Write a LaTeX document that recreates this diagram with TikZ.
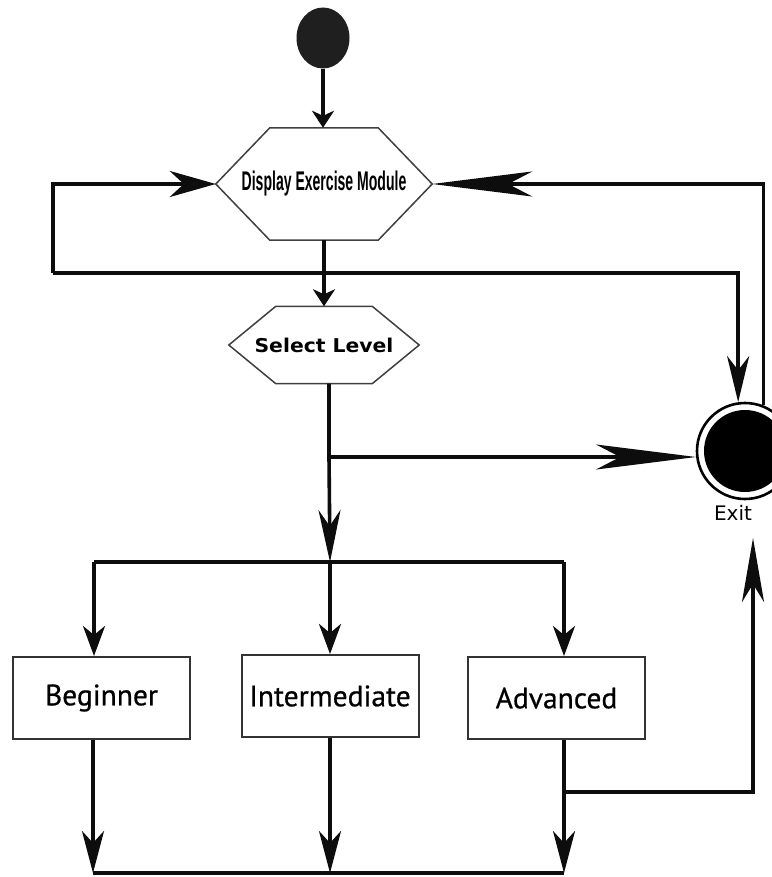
\documentclass[tikz,border=0pt]{standalone}
\usepackage{fontspec}
\setmainfont{Liberation Sans}
\newfontfamily\dispfont[FakeStretch=0.52]{Liberation Sans}
\newfontfamily\selfont[FakeStretch=1.07]{DejaVu Sans}
\newfontfamily\boxfont[FakeBold=0.6]{PT Sans}
\newfontfamily\exitfont{DejaVu Sans}
\usetikzlibrary{arrows.meta,shapes.geometric,calc}

\tikzset{
  conn/.style={line width=3.6pt, draw=black!95},
  busline/.style={line width=4.6pt, draw=black!95},
  hexline/.style={line width=1.5pt, draw=black!75},
  stepbox/.style={rectangle, draw=black!80, line width=2pt, fill=white,
    minimum width=177pt, minimum height=82pt, inner sep=0pt,
    font=\boxfont\fontsize{29.5}{29.5}\selectfont},
  hexlabel/.style={rectangle, inner sep=0pt},
  tipS/.tip={Stealth[length=17pt, width=22pt, inset=5pt]},
  tipM/.tip={Stealth[length=30pt, width=22pt, inset=9pt]},
  tipB/.tip={Stealth[length=42pt, width=22pt, inset=12pt]},
  tipSel/.tip={Stealth[length=52pt, width=22pt, inset=16pt]},
  tipUp/.tip={Stealth[length=64pt, width=22pt, inset=18pt]},
  tipLeft/.tip={Stealth[length=46pt, width=26pt, inset=14pt]},
  tipTop/.tip={Stealth[length=46pt, width=22pt, inset=14pt]},
  tipLong/.tip={Stealth[length=100pt, width=25pt, inset=24pt]},
}

\begin{document}
\begin{tikzpicture}[x=1pt,y=-1pt]
\fill[white] (0,0) rectangle (771,877);
\useasboundingbox (0,0) rectangle (771,877);

% initial node
\node[ellipse, fill=black!88, minimum width=53pt, minimum height=61pt, inner sep=0pt] (start) at (323,38) {};

% decision-like hexagons
\node[hexlabel, minimum width=216pt, minimum height=112pt] (disp) at (324,184)
  {\dispfont\bfseries\fontsize{27}{27}\selectfont Display Exercise Module};
\draw[hexline] (disp.west) -- ([xshift=54pt]disp.north west) -- ([xshift=-54pt]disp.north east)
  -- (disp.east) -- ([xshift=-54pt]disp.south east) -- ([xshift=54pt]disp.south west) -- cycle;

\node[hexlabel, minimum width=190pt, minimum height=77pt] (sel) at (324,345)
  {\selfont\bfseries\fontsize{19}{19}\selectfont Select Level};
\draw[hexline] (sel.west) -- ([xshift=47pt]sel.north west) -- ([xshift=-47pt]sel.north east)
  -- (sel.east) -- ([xshift=-47pt]sel.south east) -- ([xshift=47pt]sel.south west) -- cycle;

% final node
\node[circle, draw=black, line width=2.6pt, fill=white, minimum size=96pt, inner sep=0pt,
  path picture={\fill[black] (path picture bounding box.center) circle (41pt);}] (exit) at (745,451) {};
\node[font=\exitfont\fontsize{20}{20}\selectfont, inner sep=0pt, anchor=base] (exitlbl) at (733,520) {Exit};

% level boxes
\node[stepbox] (beg) at (101.5,698) {Beginner};
\node[stepbox] (mid) at (330,696) {Intermediate};
\node[stepbox] (adv) at (556.5,698) {Advanced};

% junction points
\coordinate (loopL) at (53,273);
\coordinate (j1) at (329,457);
\coordinate (b1) at (94,562);
\coordinate (b2) at (330,562);
\coordinate (b3) at (564,562);
\coordinate (c1) at (93,873);
\coordinate (c2) at (330,873);
\coordinate (c3) at (564,873);
\coordinate (j2) at (564,792);
\coordinate (upend) at (753,538);

% main flow
\draw[conn, -{tipS}] (start.south) -- (start.south |- disp.north);
\draw[conn, -{tipS}] (disp.south) -- (disp.south |- sel.north);
\draw[conn, -{tipSel}] (sel.south -| j1) -- (j1) -- (b2);
\draw[conn, -{tipLong}] (j1) -- (exit.187);

% loop back to the module and out to exit
\draw[conn, -{tipLeft}] (loopL) |- (disp.west);
\draw[busline, -{tipTop}] (loopL) -| (exit.98);
\draw[conn, -{tipLong}] (exit.68) |- (disp.east);

% fork to levels
\draw[busline] (b1) -- (b3);
\draw[conn, -{tipM}] (b1) -- (b1 |- beg.north);
\draw[conn, -{tipM}] (b2) -- (b2 |- mid.north);
\draw[conn, -{tipM}] (b3) -- (b3 |- adv.north);

% join below levels
\draw[conn, -{tipB}] (beg.south -| c1) -- (c1);
\draw[conn, -{tipB}] (mid.south -| c2) -- (c2);
\draw[conn, -{tipB}] (adv.south -| c3) -- (c3);
\draw[busline] (c1) -- (c3);
\draw[busline, -{tipUp}] (j2) -| (upend);
\end{tikzpicture}
\end{document}
